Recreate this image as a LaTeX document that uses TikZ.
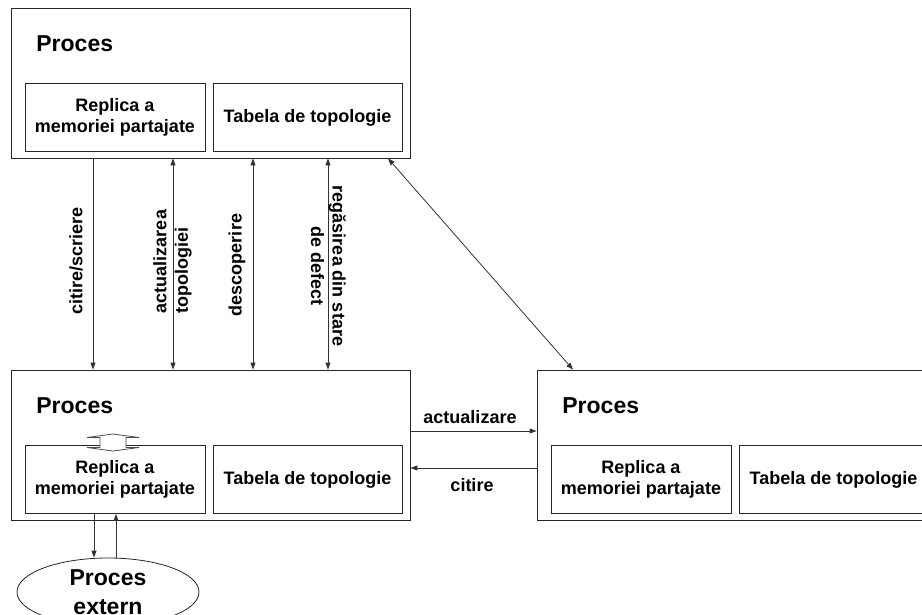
\documentclass[tikz,border=0pt]{standalone}
\usepackage{fontspec}
\setmainfont{Liberation Sans}
\usetikzlibrary{arrows.meta,shapes.geometric}

\begin{document}
\begin{tikzpicture}[x=1pt,y=-1pt,line width=0.8pt,
  every node/.style={font=\bfseries\fontsize{18}{21.5}\selectfont,inner sep=0pt},
  procbox/.style={draw=black!85,minimum width=399pt,minimum height=150pt},
  membox/.style={draw=black!85,minimum width=180pt,minimum height=68pt,align=center},
  topobox/.style={draw=black!85,minimum width=189pt,minimum height=68pt},
  title/.style={font=\bfseries\fontsize{23}{28}\selectfont,anchor=west},
  link/.style={draw=black!80,-{Triangle[length=7pt,width=5pt]}},
  dlink/.style={draw=black!80,{Triangle[length=7pt,width=5pt]}-{Triangle[length=7pt,width=5pt]}}]
  \useasboundingbox (0,0) rectangle (922,614);
  \clip (0,0) rectangle (922,614);
  % the three processes
  \foreach \p/\dx/\dy in {a/0/0,b/0/362,c/526/362}{
    \begin{scope}[shift={(\dx,\dy)}]
      \node[procbox] (\p) at (210.5,83) {};
      \node[title] (\p-lbl) at (36,44) {Proces};
      \node[membox] (\p-rep) at (115,117.5) {Replica a\\memoriei partajate};
      \node[topobox] (\p-top) at (307.5,117.5) {Tabela de topologie};
    \end{scope}
  }
  % links between the upper and the lower process
  \foreach \x [count=\i] in {93,173,253,328} \coordinate (v\i) at (\x,0);
  \draw[link] (a.south -| v1) -- (b.north -| v1);
  \draw[dlink] (a.south -| v2) -- (b.north -| v2);
  \draw[dlink] (a.south -| v3) -- (b.north -| v3);
  \draw[dlink] (a.south -| v4) -- (b.north -| v4);
  \node[rotate=90] (l1) at (76,261) {citire/scriere};
  \node[rotate=90,align=left] (l2) at (172.5,261.5) {actualizarea\\topologiei};
  \node[rotate=90] (l3) at (237,265) {descoperire};
  \node[rotate=-90,align=center] (l4) at (328.5,266) {regăsirea din stare\\de defect};
  \coordinate (d1) at (388,0); \coordinate (d2) at (573,0);
  \draw[dlink] (a.south -| d1) -- (c.north -| d2);
  % lower processes
  \coordinate (h1) at (0,431); \coordinate (h2) at (0,468);
  \draw[link] (b.east |- h1) -- (c.west |- h1);
  \draw[link] (c.west |- h2) -- (b.east |- h2);
  \node (upd) at (470,417) {actualizare};
  \node (rd) at (472,485) {citire};
  \draw[draw=black!70,fill=white] (113,434) -- (139,437.5) -- (126,437.5) -- (126,447.5)
    -- (139,447.5) -- (113,451) -- (87,447.5) -- (100,447.5) -- (100,437.5) -- (87,437.5) -- cycle;
  % external process
  \node[draw=black!85,ellipse,minimum width=182pt,minimum height=68pt,inner sep=-8pt,align=center,
    font=\bfseries\fontsize{23}{29}\selectfont] (ext) at (108,592) {Proces\\extern};
  \coordinate (e1) at (94,0); \coordinate (e2) at (116,0);
  \draw[link] (b-rep.south -| e1) -- (ext.north -| e1);
  \draw[link] (ext.north -| e2) -- (b-rep.south -| e2);
\end{tikzpicture}
\end{document}
